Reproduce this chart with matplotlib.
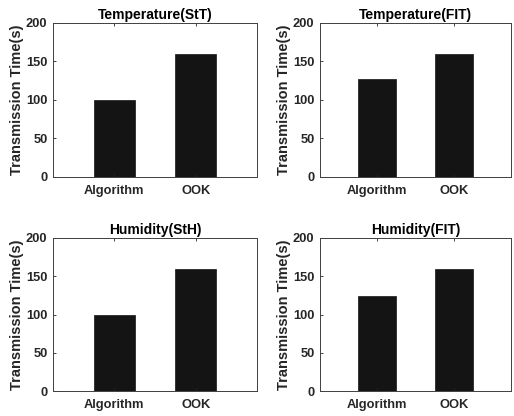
import matplotlib
matplotlib.use("Agg")
import matplotlib.pyplot as plt

categories = ["Algorithm", "OOK"]
titles = ["Temperature(StT)", "Temperature(FIT)", "Humidity(StH)", "Humidity(FIT)"]
temp_stt = [100, 160]
temp_fit = [127, 160]
hum_sth = [100, 160]
hum_fit = [124, 160]
yticks = [0, 50, 100, 150, 200]
ylabel = "Transmission Time(s)"

series = [temp_stt, temp_fit, hum_sth, hum_fit]

plt.rcParams['font.family'] = ['Liberation Sans', 'DejaVu Sans']
plt.rcParams['font.weight'] = 'bold'

W, H = 514, 416
fig = plt.figure(figsize=(W / 100, H / 100), dpi=100)

# axes boxes in pixels: (left, top, right, bottom)
boxes = [(53, 23, 257, 176.5), (320, 23, 511, 176.5),
         (53, 238, 257, 391), (320, 238, 511, 391)]

txt = '#262626'
for vals, title, (l, t, r, b) in zip(series, titles, boxes):
    ax = fig.add_axes([l / W, 1 - b / H, (r - l) / W, (b - t) / H])
    x = list(range(1, len(categories) + 1))
    ax.bar(x, vals, width=0.5, color='#141414', edgecolor='#141414', linewidth=0.5)
    ax.set_xlim(0.25, 2.75)
    ax.set_ylim(0, 200)
    ax.set_xticks(x)
    ax.set_xticklabels(categories)
    ax.set_yticks(yticks)
    ax.tick_params(direction='in', length=2.5, width=0.6, colors=txt,
                   labelsize=9.3, top=True, right=False)
    ax.tick_params(axis='x', pad=6)
    ax.tick_params(axis='y', pad=4)
    for lab in ax.get_xticklabels() + ax.get_yticklabels():
        lab.set_fontweight('bold')
    for s in ax.spines.values():
        s.set_color('#404040')
        s.set_linewidth(0.7)
    ax.set_title(title, fontsize=10, fontweight='bold', color='black', pad=3)
    ax.set_ylabel(ylabel, fontsize=10.5, fontweight='bold', color=txt)
    ax.yaxis.set_label_coords(-0.14 * 204 / (r - l), 0.5)

fig.savefig("out.png", dpi=100)
